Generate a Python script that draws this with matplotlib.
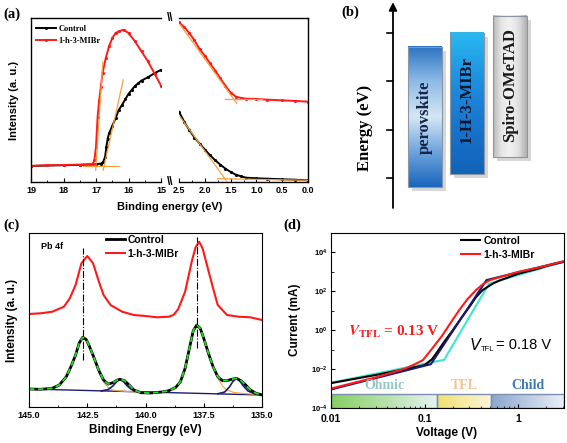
import numpy as np
import matplotlib
matplotlib.use('Agg')
from matplotlib import pyplot as plt
from matplotlib.patches import Rectangle
from matplotlib.colors import LinearSegmentedColormap, to_rgb
from matplotlib.ticker import MultipleLocator, FormatStrFormatter, FixedLocator, FixedFormatter, LogLocator, NullFormatter, LogFormatterMathtext

plt.rcParams['font.family'] = 'Liberation Sans'
plt.rcParams['font.weight'] = 'bold'

# ---------------- (a) UPS spectra (intensity in a.u.)
ups_cut_e_red = [19, 18.5, 18, 17.5, 17.2, 17.1, 17.05, 17.0, 16.95, 16.9, 16.85, 16.8, 16.7, 16.6,
                 16.5, 16.4, 16.3, 16.15, 16.0, 15.8, 15.6, 15.4, 15.2, 15.0]
ups_cut_i_red = [16.0, 16.7, 17.0, 17.3, 17.7, 18.3, 21.7, 35.0, 65.0, 81.7, 95.0, 108.3, 123.3, 135.0,
                 143.3, 148.3, 150.0, 151.7, 148.3, 140.0, 130.0, 120.0, 108.0, 96.0]
ups_cut_e_ctrl = [19, 18, 17.5, 17.0, 16.85, 16.78, 16.72, 16.68, 16.64, 16.6, 16.5, 16.4, 16.3, 16.2,
                  16.1, 16.0, 15.9, 15.8, 15.7, 15.6, 15.4, 15.2, 15.0]
ups_cut_i_ctrl = [16.0, 16.7, 17.0, 17.7, 18.3, 20.0, 25.0, 35.0, 43.3, 48.3, 55.7, 63.3, 71.7, 76.7,
                  82.3, 87.7, 91.7, 95.7, 98.3, 101.0, 104.3, 108.3, 111.7]
ups_vb_e = [2.5, 2.4, 2.3, 2.2, 2.1, 2.0, 1.9, 1.8, 1.7, 1.6, 1.5, 1.4, 1.3, 1.2, 1.0, 0.8, 0.5, 0.25, 0.0]
ups_vb_i_red = [159.0, 154.3, 148.3, 141.0, 132.3, 125.7, 118.3, 111.0, 103.3, 95.7, 89.0, 85.0, 83.7,
                83.0, 82.7, 82.0, 81.3, 80.7, 80.0]
ups_vb_i_ctrl = [70.0, 60.0, 51.7, 44.3, 38.3, 32.3, 26.7, 21.7, 17.3, 13.3, 10.0, 7.3, 5.7, 4.3, 3.7,
                 3.3, 2.7, 2.3, 1.7]
# tangent (onset) lines: (e0, i0, e1, i1)
cut_tangents = [(17.01, 11.7, 16.79, 119.0), (16.78, 11.7, 16.16, 101.7), (17.4, 16.0, 16.3, 16.0)]
vb_tangents = [(2.48, 156.7, 1.38, 78.3), (1.6, 82.7, 0.9, 82.7), (2.48, 65.0, 1.57, 0.5), (1.75, 3.3, 0.0, 1.7)]

# ---------------- (b) energy levels (arb. units)
layer_names = ['perovskite', '1-H-3-MIBr', 'Spiro-OMeTAD']
layer_top = [3.71, 4.00, 4.35]
layer_bottom = [0.81, 1.08, 1.43]
energy_ticks = [1, 2, 3, 4]

# ---------------- (c) Pb 4f XPS
xps_e_red = [145.0, 144.5, 144.0, 143.5, 143.25, 143.0, 142.75, 142.5, 142.25, 142.0, 141.8, 141.5, 141.0,
             140.5, 140.0, 139.5, 139.0, 138.8, 138.6, 138.3, 138.0, 137.85, 137.7, 137.55, 137.4, 137.1,
             136.9, 136.5, 136.0, 135.5, 135.0]
xps_i_red = [93.0, 93.7, 95.3, 100.3, 108.7, 122.0, 143.7, 151.0, 143.7, 125.3, 112.0, 102.0, 95.3, 92.0,
             91.0, 89.7, 90.3, 92.0, 97.7, 115.3, 147.0, 159.7, 165.3, 158.7, 145.3, 118.7, 102.0, 92.0,
             90.3, 89.7, 87.0]
xps_e_ctrl = [145.0, 144.5, 144.0, 143.7, 143.4, 143.2, 143.0, 142.85, 142.7, 142.55, 142.4, 142.2, 142.0,
              141.8, 141.6, 141.4, 141.2, 141.1, 140.9, 140.7, 140.5, 140.2, 139.8, 139.3, 139.0, 138.7,
              138.5, 138.3, 138.1, 137.95, 137.8, 137.65, 137.5, 137.3, 137.1, 136.9, 136.7, 136.5, 136.3,
              136.1, 135.9, 135.7, 135.5, 135.25, 135.0]
xps_i_ctrl = [18.0, 17.7, 18.7, 22.0, 30.3, 40.3, 52.0, 63.7, 69.7, 67.7, 60.3, 48.7, 36.3, 27.0, 23.0,
              24.3, 27.0, 27.7, 26.3, 22.0, 17.0, 14.3, 14.0, 15.0, 16.3, 19.7, 25.3, 38.7, 60.3, 76.3,
              82.0, 78.7, 68.7, 53.7, 40.3, 30.3, 26.3, 26.3, 27.7, 28.7, 26.3, 22.0, 17.0, 13.7, 12.0]
xps_bg_e = [145.0, 135.0]
xps_bg_i = [18.0, 12.0]
comp_main1_e = [145, 144, 143.7, 143.4, 143.2, 143, 142.85, 142.7, 142.55, 142.4, 142.2, 142, 141.8, 141.6,
                141.4, 141.1, 140.8, 140.5, 140]
comp_main1_i = [18, 18.5, 21.5, 30, 40, 52, 63.5, 69.5, 67.5, 60, 48, 35, 25, 19.5, 17, 16, 15.5, 15.2, 14.8]
comp_main2_e = [139.5, 139, 138.7, 138.5, 138.3, 138.1, 137.95, 137.8, 137.65, 137.5, 137.3, 137.1, 136.9,
                136.7, 136.5, 136.2, 135.8, 135.4, 135]
comp_main2_i = [14.3, 16, 19.5, 25, 38.5, 60, 76, 82, 78.5, 68.5, 53.5, 40, 29, 21, 17, 14.5, 13.5, 12.8, 12.2]
comp_small1_e = [141.9, 141.6, 141.4, 141.25, 141.1, 140.95, 140.8, 140.6, 140.3]
comp_small1_i = [16, 17.5, 21, 25, 27.7, 25.5, 21.5, 17.5, 15.3]
comp_small2_e = [136.9, 136.6, 136.4, 136.25, 136.1, 135.95, 135.8, 135.6, 135.3]
comp_small2_i = [13.2, 15, 20, 25.5, 28.7, 26, 21, 16, 13]
pb4f_peaks = [142.68, 137.79]
pb4f_marker_top = [159, 170]
pb4f_marker_bottom = [47, 59]

# ---------------- (d) SCLC
v_mibr = [0.01, 0.0316, 0.063, 0.079, 0.096, 0.12, 0.155, 0.19, 0.234, 0.288, 0.355, 0.417, 0.5, 0.63,
          1.0, 1.58, 2.0, 3.0]
i_mibr = [1e-3, 4e-3, 1.1e-2, 1.8e-2, 2.9e-2, 0.11, 0.54, 2.4, 10.5, 40, 115, 224, 380, 525, 1000, 1580,
          2090, 3400]
v_ctrl = [0.01, 0.0316, 0.1, 0.12, 0.132, 0.162, 0.2, 0.245, 0.302, 0.355, 0.417, 0.537, 0.63, 1.0, 1.58,
          2.0, 3.0]
i_ctrl = [1.9e-3, 5.2e-3, 1.6e-2, 3.2e-2, 6e-2, 0.25, 0.98, 4, 16, 50, 115, 250, 355, 800, 1400, 2000, 3200]
v_fit_mibr = [0.01, 0.117, 0.46, 3.0]
i_fit_mibr = [9e-4, 1.8e-2, 380, 3400]
v_fit_ctrl = [0.01, 0.162, 0.49, 3.0]
i_fit_ctrl = [2e-3, 3e-2, 250, 3200]
region_names = ['Ohmic', 'TFL', 'Child']
region_edges = [0.01, 0.136, 0.52, 3.1]

fig = plt.figure(figsize=(5.67, 4.43), dpi=100)
W, H = 567.0, 443.0


def px_axes(x0, y0, x1, y1):
    return fig.add_axes([x0 / W, 1 - y1 / H, (x1 - x0) / W, (y1 - y0) / H])


def ftext(x, y, s, **kw):
    fig.text(x / W, 1 - y / H, s, **kw)


orange = '#f5a23c'
serif = 'Liberation Serif'

# ---------- panel (a)
axL = px_axes(31, 18, 161, 182)
axR = px_axes(179, 18, 308, 182)
for ax in (axL, axR):
    ax.set_ylim(0, 163.3)
    ax.set_yticks([])
    ax.tick_params(axis='x', which='major', direction='in', labelsize=6.5, length=3, width=0.8, pad=3)
    ax.tick_params(axis='x', which='minor', direction='in', length=1.8, width=0.6)
    for s in ax.spines.values():
        s.set_linewidth(1.0)
axL.spines['right'].set_visible(False)
axR.spines['left'].set_visible(False)
axL.set_xlim(19, 15)
axL.xaxis.set_major_locator(MultipleLocator(1))
axL.xaxis.set_minor_locator(MultipleLocator(0.5))
axL.xaxis.set_major_formatter(FormatStrFormatter('%d'))
axR.set_xlim(2.5, 0)
axR.xaxis.set_major_locator(MultipleLocator(0.5))
axR.xaxis.set_minor_locator(MultipleLocator(0.25))
axR.xaxis.set_major_formatter(FormatStrFormatter('%.1f'))

for e0, i0, e1, i1 in cut_tangents:
    axL.plot([e0, e1], [i0, i1], color=orange, lw=0.9, zorder=3)
for e0, i0, e1, i1 in vb_tangents:
    axR.plot([e0, e1], [i0, i1], color=orange, lw=0.9, zorder=3)
axL.plot(ups_cut_e_ctrl, ups_cut_i_ctrl, color='k', lw=1.4, marker='.', ms=2.5, label='Control', zorder=2)
axL.plot(ups_cut_e_red, ups_cut_i_red, color='#ff1a1a', lw=1.4, marker='.', ms=2.5, label='1-h-3-MIBr', zorder=2)
axR.plot(ups_vb_e, ups_vb_i_ctrl, color='k', lw=1.4, marker='.', ms=2.5, zorder=2)
axR.plot(ups_vb_e, ups_vb_i_red, color='#ff1a1a', lw=1.4, marker='.', ms=2.5, zorder=2)
axL.legend(loc='upper left', bbox_to_anchor=(0.04, 0.96), frameon=False, borderpad=0, borderaxespad=0,
           handlelength=2.4, handletextpad=0.3, labelspacing=0.5,
           prop={'family': serif, 'weight': 'bold', 'size': 6})
for yb in (18, 182):
    ftext(170, yb, '\\\\', fontsize=8.5, ha='center', va='center', weight='bold')
ftext(14, 100, 'Intensity (a. u.)', rotation=90, fontsize=8, ha='center', va='center')
ftext(170, 207, 'Binding energy (eV)', fontsize=8, ha='center', va='center')

# ---------- panel (b)
axB = px_axes(330, 0, 567, 215)
axB.axis('off')
axB.annotate('', xy=(393, 4.64), xytext=(393, 0.38),
             arrowprops=dict(arrowstyle='-|>', lw=1.3, color='k', mutation_scale=12, shrinkA=0, shrinkB=0))
for t in energy_ticks:
    axB.plot([387, 393], [t, t], color='k', lw=1.2)
axB.text(365, 2.03, 'Energy (eV)', rotation=90, family=serif, fontsize=12, ha='center', va='center')


def vgrad(cols, n=100):
    c = np.array([to_rgb(x) for x in cols])
    pos = np.linspace(0, 1, len(cols))
    t = np.linspace(0, 1, n)
    return np.stack([np.interp(t, pos, c[:, k]) for k in range(3)], axis=1)


grad_rows = [vgrad(['#2d74c4', '#8fbbe6', '#d6e7f5', '#6fa4dc', '#1b66bd']),
             vgrad(['#29b8f0', '#1e90e0', '#1874cc', '#1262b8'])]
layer_x = [(408, 442), (450, 484), (493, 527)]
text_cols = ['#15254a', '#10142e', '#1a1a1a']
for k, name in enumerate(layer_names):
    x0, x1 = layer_x[k]
    b, t = layer_bottom[k], layer_top[k]
    axB.add_patch(Rectangle((x0 + 4, b - 0.085), x1 - x0, t - b, color='#a8a8a8', alpha=0.45, lw=0, zorder=1))
    if k < 2:
        img = grad_rows[k][:, None, :].repeat(4, axis=1)
    else:
        row = vgrad(['#b8b8b8', '#e6e6e6', '#f2f2f2', '#e0e0e0', '#b0b0b0'])
        img = row[None, :, :].repeat(4, axis=0)
    axB.imshow(img, extent=[x0, x1, b, t], origin='upper', aspect='auto', zorder=2, interpolation='bilinear')
    axB.add_patch(Rectangle((x0, b), x1 - x0, t - b, fill=False, ec='#8a95a5', lw=0.8, zorder=3))
    axB.text((x0 + x1) / 2, (b + t) / 2 + [0.0, 0.08, 0.04][k], name, rotation=90, family=serif, fontsize=12,
             ha='center', va='center', color=text_cols[k], zorder=4)
axB.set_xlim(330, 567)
axB.set_ylim(0.234, 4.685)

# ---------- panel (c)
axC = px_axes(29, 233, 262, 407)
axC.set_xlim(145, 135)
axC.set_ylim(0, 174)
axC.set_yticks([])
axC.xaxis.set_major_locator(MultipleLocator(2.5))
axC.xaxis.set_minor_locator(MultipleLocator(1.25))
axC.xaxis.set_major_formatter(FormatStrFormatter('%.1f'))
axC.tick_params(axis='x', which='major', direction='in', labelsize=6.5, length=3, width=0.8, pad=3)
axC.tick_params(axis='x', which='minor', direction='in', length=1.8, width=0.6)
axC.plot(xps_bg_e, xps_bg_i, color='#1c1c70', lw=1.0)
axC.plot(comp_main1_e, comp_main1_i, color=orange, lw=0.8)
axC.plot(comp_main2_e, comp_main2_i, color=orange, lw=0.8)
axC.plot(comp_small1_e, comp_small1_i, color='#1c1c70', lw=1.2)
axC.plot(comp_small2_e, comp_small2_i, color='#1c1c70', lw=1.2)
axC.plot(xps_e_ctrl, xps_i_ctrl, color='k', lw=2.0, label='Control')
axC.plot(xps_e_ctrl, xps_i_ctrl, color='#22dd22', lw=1.3, ls=(0, (3, 2)))
axC.plot(xps_e_red, xps_i_red, color='#ff1a1a', lw=1.5, label='1-h-3-MIBr')
for k, e in enumerate(pb4f_peaks):
    axC.plot([e, e], [pb4f_marker_bottom[k], pb4f_marker_top[k]], color='k', lw=0.8, ls='-.')
axC.text(0.05, 0.92, 'Pb 4f', transform=axC.transAxes, fontsize=6.5, va='center')
axC.legend(loc='upper left', bbox_to_anchor=(0.33, 0.99), frameon=False, borderpad=0, borderaxespad=0,
           handlelength=1.8, handletextpad=0.3, labelspacing=0.4, prop={'weight': 'bold', 'size': 7.5})
ftext(12, 320, 'Intensity (a. u.)', rotation=90, fontsize=8.5, ha='center', va='center')
ftext(145, 430, 'Binding Energy (eV)', fontsize=8.5, ha='center', va='center')

# ---------- panel (d)
axD = px_axes(331, 233, 564, 408)
axD.set_xscale('log')
axD.set_yscale('log')
for k, name in enumerate(region_names):
    v0, v1 = region_edges[k], region_edges[k + 1]
    cmap = LinearSegmentedColormap.from_list(name, [['#86cf62', '#f0e070', '#8ca6cf'][k],
                                                    ['#e4f2ee', '#fbf4da', '#e8eef6'][k]])
    xs = np.geomspace(v0, v1, 60)
    axD.pcolormesh(xs, [1e-4, 5.3e-4], np.linspace(0, 1, 59)[None, :], cmap=cmap, shading='flat', zorder=1)
    axD.add_patch(Rectangle((v0, 1e-4), v1 - v0, 5.3e-4 - 1e-4, fill=False, ec='#7d8eb0', lw=1.0, zorder=2))
    axD.text(np.sqrt(v0 * v1), 1.4e-3, name, family=serif, fontsize=10, ha='center', va='center',
             color=['#93c9c4', '#f2c38a', '#3d7ab8'][k])
axD.plot(v_fit_ctrl, i_fit_ctrl, color='#3ee6d2', lw=1.5)
axD.plot(v_ctrl, i_ctrl, color='k', lw=1.5, label='Control')
axD.plot(v_fit_mibr, i_fit_mibr, color='#1a1a6e', lw=1.5)
axD.plot(v_mibr, i_mibr, color='#ff1a1a', lw=1.5, label='1-h-3-MIBr')
axD.set_xlim(0.01, 3.1)
axD.set_ylim(1e-4, 1e5)
axD.yaxis.set_major_locator(FixedLocator([1e-4, 1e-2, 1, 1e2, 1e4]))
axD.yaxis.set_major_formatter(LogFormatterMathtext())
axD.yaxis.set_minor_locator(LogLocator(base=10, subs=(1.0,), numticks=20))
axD.yaxis.set_minor_formatter(NullFormatter())
axD.xaxis.set_major_locator(FixedLocator([0.01, 0.1, 1]))
axD.xaxis.set_major_formatter(FixedFormatter(['0.01', '0.1', '1']))
axD.xaxis.set_minor_locator(LogLocator(base=10, subs=np.arange(2, 10), numticks=20))
axD.xaxis.set_minor_formatter(NullFormatter())
axD.tick_params(which='major', direction='in', length=3, width=0.8)
axD.tick_params(axis='x', which='major', labelsize=7.5, pad=4.5)
axD.tick_params(axis='y', which='major', labelsize=5.5, pad=2.5)
axD.tick_params(which='minor', direction='in', length=1.8, width=0.6)
axD.text(0.073, 0.434, r'$\mathbfit{V}_{\mathbf{TFL}}$ = 0.13 V', transform=axD.transAxes, family=serif,
         fontsize=11, color='#ff1a1a', math_fontfamily='stix', va='center')
# black V_TFL label built from pieces (regular sans)
vx, vy = 0.597, 0.36
axD.annotate('V', (vx, vy), xycoords='axes fraction', fontsize=11.5, style='italic', weight='normal',
             va='center', ha='left')
axD.annotate('TFL', (vx, vy), xycoords='axes fraction', xytext=(7.5, -3.5), textcoords='offset points',
             fontsize=5.5, weight='normal', va='center', ha='left')
axD.annotate('= 0.18 V', (vx, vy), xycoords='axes fraction', xytext=(19, 0), textcoords='offset points',
             fontsize=10.5, weight='normal', va='center', ha='left')
axD.legend(loc='upper left', bbox_to_anchor=(0.56, 0.985), frameon=False, borderpad=0, borderaxespad=0,
           handlelength=1.8, handletextpad=0.3, labelspacing=0.4, prop={'weight': 'bold', 'size': 7.5})
ftext(295, 320, 'Current (mA)', rotation=90, fontsize=8.5, ha='center', va='center')
ftext(447, 433, 'Voltage (V)', fontsize=8.5, ha='center', va='center')

for lab, x, y in [('(a)', 3, 14), ('(b)', 341, 12), ('(c)', 3, 225), ('(d)', 283, 225)]:
    ftext(x, y, lab, family=serif, fontsize=10.5, weight='bold', va='center', ha='left')

fig.savefig('out.png', dpi=100)
